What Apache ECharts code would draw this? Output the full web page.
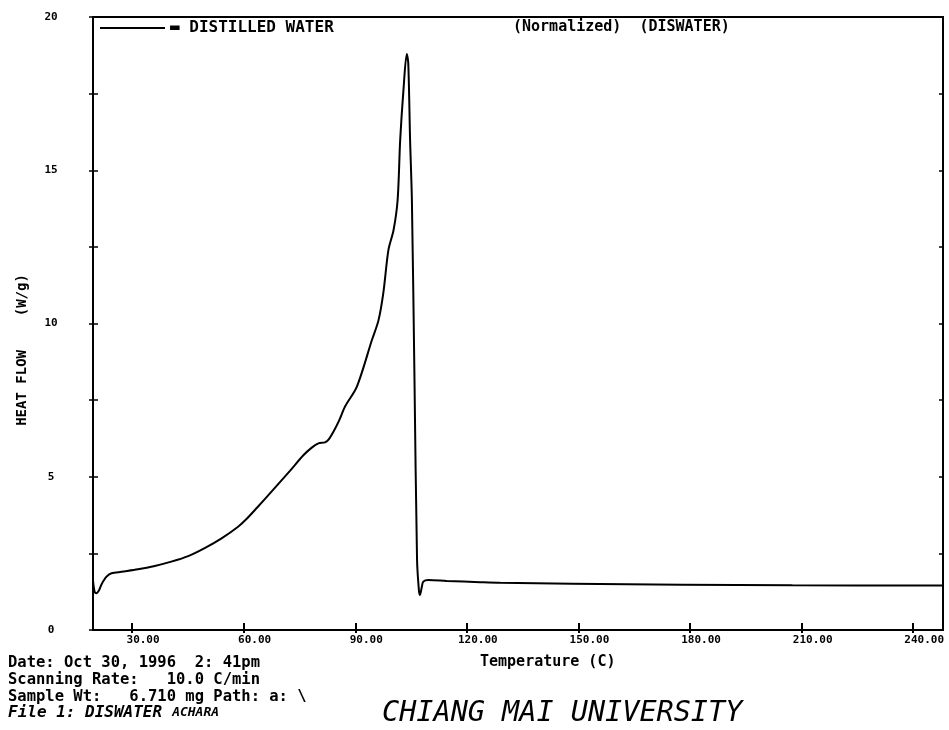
<!DOCTYPE html>
<html>
<head>
<meta charset="utf-8">
<script src="https://cdn.jsdelivr.net/npm/echarts@6/dist/echarts.min.js"></script>
<style>
  html, body { margin: 0; padding: 0; background: #fff; }
  #chart { width: 949px; height: 730px; }
</style>
</head>
<body>
<div id="chart"></div>
<script>
// DSC trace
const temperature = [
  19.5, 19.94, 20.44, 21.13, 21.72, 22.41, 23.1, 24.48, 27.14, 31.58,
  36.11, 40.55, 45.09, 49.52, 54.06, 58.5, 60.76, 63.52, 67.96, 72.5,
  76.05, 78.31, 80.09, 81.86, 82.75, 84.13, 85.71, 87.29, 90.44, 94.48,
  96.26, 97.54, 98.92, 100.3, 101.39, 102.08, 102.96, 103.85, 104.25, 104.74,
  105.23, 105.92, 106.61, 107.11, 107.4, 107.89, 108.29, 109.67, 114.6, 123.57,
  128.99, 148.3, 177.9, 207.5, 248
]
const heatFlow = [
  1.62, 1.25, 1.20, 1.30, 1.47, 1.62, 1.74, 1.85, 1.90, 1.98,
  2.09, 2.23, 2.41, 2.67, 2.99, 3.37, 3.62, 3.98, 4.58, 5.20,
  5.70, 5.95, 6.09, 6.12, 6.20, 6.47, 6.85, 7.30, 7.94, 9.46,
  10.11, 10.99, 12.40, 13.05, 14.03, 15.99, 17.62, 18.79, 18.50, 16.00,
  14.00, 8.20, 2.30, 1.30, 1.14, 1.40, 1.58, 1.63, 1.60, 1.56,
  1.54, 1.51, 1.48, 1.46, 1.45
]
const xTicks = [30, 60, 90, 120, 150, 180, 210, 240]
const seriesName = 'DISTILLED WATER'

const mono = 'DejaVu Sans Mono'
const chart = echarts.init(document.getElementById('chart'))

const xBase = {
  type: 'value',
  min: 19.5,
  max: 248,
  position: 'bottom',
  splitLine: { show: false }
}
const yBase = {
  type: 'value',
  min: 0,
  max: 20,
  interval: 5,
  splitLine: { show: false },
  minorSplitLine: { show: false }
}

chart.setOption({
  animation: false,
  backgroundColor: '#fff',
  grid: {
    left: 93, right: 6, top: 17, bottom: 100,
    show: true, borderColor: '#000', borderWidth: 2
  },
  legend: {
    data: [seriesName],
    left: 100,
    top: 20,
    padding: 0,
    icon: 'rect',
    itemWidth: 65,
    itemHeight: 2,
    formatter: '▬ {name}',
    textStyle: { fontFamily: mono, fontWeight: 'bold', fontSize: 16, color: '#000' }
  },
  xAxis: [
    Object.assign({}, xBase, {
      axisLine: { lineStyle: { color: '#000', width: 2 } },
      axisTick: { inside: true, length: 7, customValues: xTicks, lineStyle: { color: '#000', width: 2 } },
      axisLabel: {
        customValues: xTicks,
        formatter: v => v.toFixed(2),
        fontFamily: mono, fontWeight: 'bold', fontSize: 11, color: '#000',
        margin: 5, padding: [0, 0, 0, 22]
      }
    }),
    Object.assign({}, xBase, {
      axisLine: { show: false },
      axisTick: { inside: false, length: 3, customValues: xTicks, lineStyle: { color: '#000', width: 2 } },
      axisLabel: { show: false }
    })
  ],
  yAxis: [
    Object.assign({}, yBase, {
      position: 'left',
      axisLine: { show: true, lineStyle: { color: '#000', width: 2 } },
      axisTick: { inside: true, length: 5, lineStyle: { color: '#000', width: 1.5 } },
      minorTick: { show: true, splitNumber: 2, length: 5, lineStyle: { color: '#000', width: 1.5 } },
      axisLabel: {
        fontFamily: mono, fontWeight: 'bold', fontSize: 11, color: '#000',
        align: 'center', margin: 42
      }
    }),
    Object.assign({}, yBase, {
      position: 'left',
      axisLine: { show: false },
      axisTick: { inside: false, length: 4, lineStyle: { color: '#000', width: 1.5 } },
      minorTick: { show: true, splitNumber: 2, length: 4, lineStyle: { color: '#000', width: 1.5 } },
      axisLabel: { show: false }
    }),
    Object.assign({}, yBase, {
      position: 'right',
      axisLine: { show: true, lineStyle: { color: '#000', width: 2 } },
      axisTick: { inside: true, length: 4, lineStyle: { color: '#000', width: 1.5 } },
      minorTick: { show: true, splitNumber: 2, length: 4, lineStyle: { color: '#000', width: 1.5 } },
      axisLabel: { show: false }
    })
  ],
  series: [{
    name: seriesName,
    type: 'line',
    xAxisIndex: 0,
    yAxisIndex: 0,
    showSymbol: false,
    smooth: 0.3,
    color: '#000',
    lineStyle: { color: '#000', width: 2 },
    data: temperature.map((t, i) => [t, heatFlow[i]])
  }],
  graphic: [
    {
      type: 'text', left: 513, top: 20,
      style: { text: '(Normalized)  (DISWATER)', fontFamily: mono, fontWeight: 'bold', fontSize: 15, fill: '#000' }
    },
    {
      type: 'text', left: 480, top: 655,
      style: { text: 'Temperature (C)', fontFamily: mono, fontWeight: 'bold', fontSize: 15, fill: '#000' }
    },
    {
      type: 'text', x: 22, y: 350, rotation: Math.PI / 2,
      style: {
        text: 'HEAT FLOW    (W/g)', fontFamily: mono, fontWeight: 'bold', fontSize: 14,
        fill: '#000', align: 'center', verticalAlign: 'middle'
      }
    },
    {
      type: 'text', left: 8, top: 654,
      style: {
        text: 'Date: Oct 30, 1996  2: 41pm\nScanning Rate:   10.0 C/min\nSample Wt:   6.710 mg Path: a: \\',
        fontFamily: mono, fontWeight: 'bold', fontSize: 15.5, lineHeight: 17, fill: '#000'
      }
    },
    {
      type: 'text', left: 8, top: 705,
      style: {
        text: '{a|File 1: DISWATER}   {b|ACHARA}',
        rich: {
          a: { fontFamily: mono, fontWeight: 'bold', fontStyle: 'italic', fontSize: 16, fill: '#000' },
          b: { fontFamily: mono, fontWeight: 'bold', fontStyle: 'italic', fontSize: 13, fill: '#000' }
        }
      }
    },
    {
      type: 'text', left: 382, top: 699,
      style: { text: 'CHIANG MAI UNIVERSITY', fontFamily: mono, fontStyle: 'italic', fontSize: 28.5, fill: '#000' }
    }
  ]
})
</script>
</body>
</html>
